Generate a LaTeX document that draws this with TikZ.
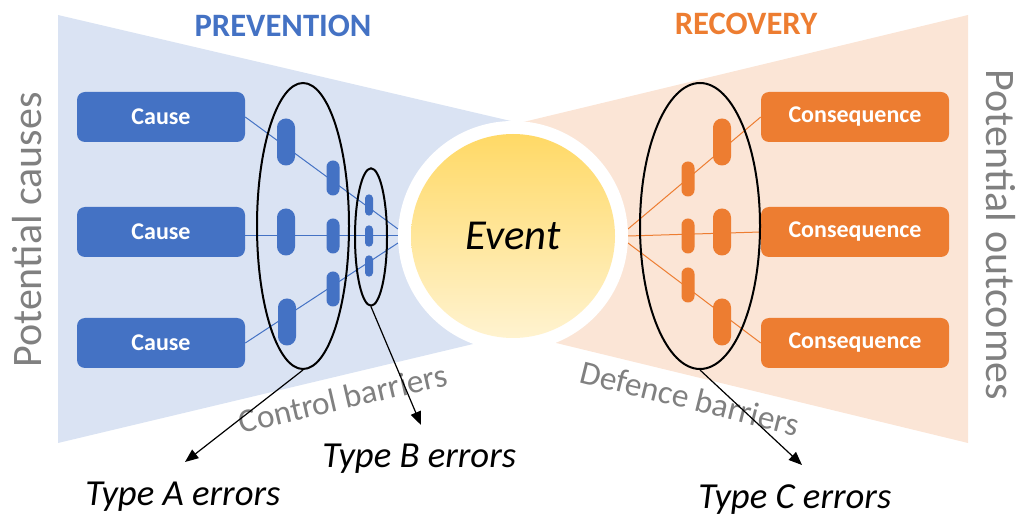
\documentclass[tikz,border=0pt]{standalone}
\usepackage{fontspec}
\setmainfont{Carlito}
\usetikzlibrary{arrows.meta,shapes.geometric}
\definecolor{cblue}{HTML}{4472C4}
\definecolor{lblue}{HTML}{DAE3F3}
\definecolor{corange}{HTML}{ED7D31}
\definecolor{lorange}{HTML}{FBE5D6}
\definecolor{gtext}{HTML}{808080}
\definecolor{evtop}{HTML}{FFD966}
\definecolor{evbot}{HTML}{FFF3D0}
\tikzset{
  causebox/.style={rectangle, rounded corners=6pt, fill=cblue, text=white, minimum width=126pt, minimum height=37.5pt, inner sep=0, font=\fontsize{18}{21}\selectfont\bfseries},
  consbox/.style={causebox, fill=corange, minimum width=141pt},
  pillbig/.style={rectangle, rounded corners=6.7pt, inner sep=0, minimum width=13.5pt, minimum height=35.25pt},
  pillmid/.style={rectangle, rounded corners=4.8pt, inner sep=0, minimum width=9.75pt, minimum height=26.25pt},
  pilltiny/.style={rectangle, rounded corners=3pt, inner sep=0, minimum width=6pt, minimum height=16pt},
  barrier/.style={ellipse, draw=black, line width=1.5pt, inner sep=0},
  errarrow/.style={draw=black, line width=0.9pt, -{Triangle[length=10pt,width=8pt]}},
  errtext/.style={font=\fontsize{27.5}{30}\selectfont\itshape, inner sep=0, anchor=base west},
  sidetext/.style={text=gtext, font=\fontsize{31.5}{34}\selectfont, inner sep=0},
  bartext/.style={text=gtext, font=\fontsize{25}{28}\selectfont, inner sep=0},
  headtext/.style={font=\fontsize{24.5}{28}\selectfont\bfseries, inner sep=0, anchor=base},
  bline/.style={draw=cblue, line width=0.75pt},
  oline/.style={draw=corange, line width=0.75pt}
}
\begin{document}
\begin{tikzpicture}[x=0.75pt,y=-0.75pt]
\useasboundingbox (0,0) rectangle (1017,516);
% fans
\fill[lblue] (58,15) -- (515,122) -- (515,334) -- (58,443) -- cycle;
\fill[lorange] (968,15) -- (968,443) -- (515,333) -- (515,124) -- cycle;
% connector end points
\coordinate (lt) at (398,229);
\coordinate (lm) at (398,236);
\coordinate (lb) at (398,243);
\coordinate (rt) at (628,229);
\coordinate (rm) at (628,236);
\coordinate (rb) at (628,243);
% boxes
\node[causebox] (c1) at (161,117) {Cause};
\node[causebox] (c2) at (161,232) {Cause};
\node[causebox] (c3) at (161,343) {Cause};
\node[consbox] (q1) at (855,117) {Consequence};
\node[consbox] (q2) at (855,232) {Consequence};
\node[consbox] (q3) at (855,343) {Consequence};
% connectors
\draw[bline] (c1.east) -- (lt);
\draw[bline] (c2.east |- lm) -- (lm);
\draw[bline] (c3.east) -- (lb);
\draw[oline] (rt) -- (q1.west);
\draw[oline] (rm) -- (q2.west);
\draw[oline] (rb) -- (q3.west);
% event
\node[circle, fill=white, minimum size=172.5pt, inner sep=0] (ring) at (513,236) {};
\node[circle, top color=evtop, bottom color=evbot, minimum size=153pt, inner sep=0,
      font=\fontsize{32}{36}\selectfont\itshape] (event) at (513,236) {Event};
% blue barriers
\node[pillbig, fill=cblue] (pa1) at (286,142) {};
\node[pillbig, fill=cblue] (pa2) at (286,232) {};
\node[pillbig, fill=cblue] (pa3) at (287,322) {};
\node[pillmid, fill=cblue] (pb1) at (333,178) {};
\node[pillmid, fill=cblue] (pb2) at (333,236) {};
\node[pillmid, fill=cblue] (pb3) at (333,289) {};
\node[pilltiny, fill=cblue] (pc1) at (369,205) {};
\node[pilltiny, fill=cblue] (pc2) at (369,236) {};
\node[pilltiny, fill=cblue] (pc3) at (369,266) {};
% orange barriers
\node[pillmid, fill=corange] (ra1) at (688,179) {};
\node[pillmid, fill=corange] (ra2) at (688,236) {};
\node[pillmid, fill=corange] (ra3) at (688,285) {};
\node[pillbig, fill=corange] (rb1) at (722,142) {};
\node[pillbig, fill=corange] (rb2) at (722,232) {};
\node[pillbig, fill=corange] (rb3) at (722,322) {};
% barrier groups
\node[barrier, minimum width=69pt, minimum height=214.5pt] (eA) at (303,226) {};
\node[barrier, minimum width=24pt, minimum height=103pt] (eB) at (371,237) {};
\node[barrier, minimum width=90pt, minimum height=214.5pt] (eC) at (700,226) {};
% headings
\node[headtext, text=cblue] (prev) at (283,37) {PREVENTION};
\node[headtext, text=corange] (reco) at (746,35) {RECOVERY};
% side texts
\node[sidetext, rotate=90] (pcause) at (27,230) {Potential causes};
\node[sidetext, rotate=-90] (pout) at (1001,235) {Potential outcomes};
\node[bartext, rotate=13] (cbar) at (343,398) {Control barriers};
\node[bartext, rotate=-14] (dbar) at (690,398) {Defence barriers};
% error labels
\node[errtext] (tA) at (85,505) {Type A errors};
\node[errtext] (tB) at (322,467) {Type B errors};
\node[errtext] (tC) at (698,508) {Type C errors};
\coordinate (aA) at (185,462);
\coordinate (aB) at (421,425);
\coordinate (aC) at (802,465);
\draw[errarrow] (eA.south) -- (aA);
\draw[errarrow] (eB.south) -- (aB);
\draw[errarrow] (eC.south) -- (aC);
\end{tikzpicture}
\end{document}
